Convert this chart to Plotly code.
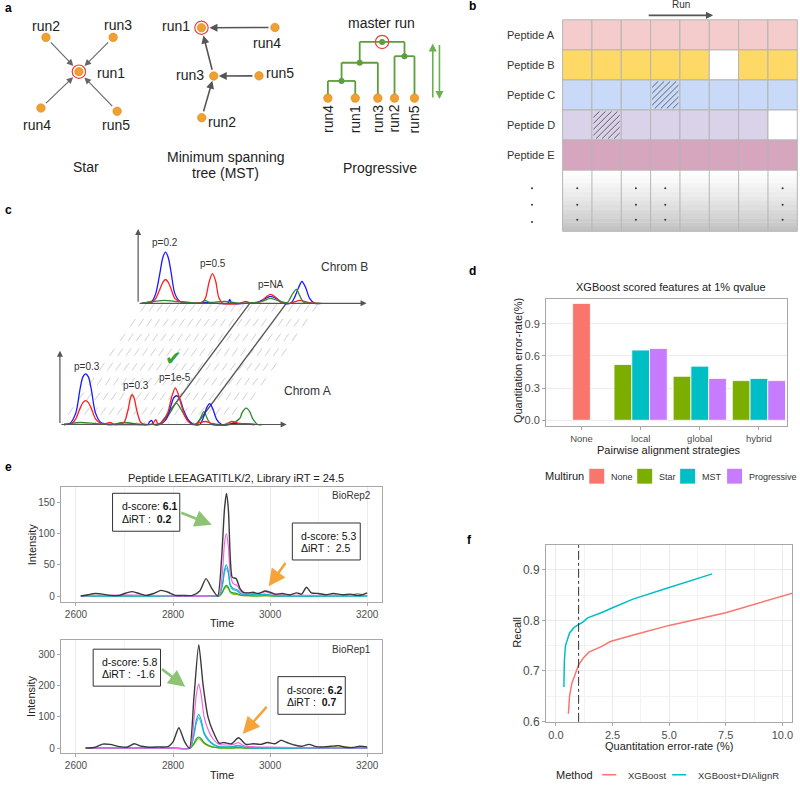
import plotly.graph_objects as go

W, H = 800, 788
FONT = "Liberation Sans, Arial, Helvetica, sans-serif"
TXT = "#222222"
TICK = "#4d4d4d"

# ---------------- panel a: alignment topologies (diagram positions, px) ----------------
star_nodes = {"run1": (79, 72.3), "run2": (46, 37.7), "run3": (113.3, 37.7),
              "run4": (41, 109), "run5": (117.3, 112.3)}
star_labels = {"run1": (111, 74), "run2": (46, 26.7), "run3": (118, 25),
               "run4": (37.5, 126), "run5": (116, 126)}
mst_nodes = {"run1": (201.7, 28), "run4": (275.3, 27.7), "run3": (214, 76.7),
             "run5": (259.3, 76.5), "run2": (202, 118.7)}
mst_labels = {"run1": (176, 26.7), "run4": (267, 43.3), "run3": (190, 76),
              "run5": (280, 74), "run2": (222, 122.7)}
mst_edges = [("run4", "run1"), ("run5", "run3"), ("run2", "run3"), ("run3", "run1")]
prog_leaves = ["run4", "run1", "run3", "run2", "run5"]
prog_leaf_x = [328.3, 355.7, 378.3, 395, 415]
prog_leaf_y = 99
# internal nodes: (children, y)
prog_tree = {"n3": (("run4", "run1"), 81.7), "n2": (("n3", "run3"), 63.3),
             "nR": (("run2", "run5"), 56.7), "root": (("n2", "nR"), 42.3)}
a_titles = [("Star", 86, 168), ("Minimum spanning", 226, 158), ("tree (MST)", 226, 175),
            ("Progressive", 380, 170), ("master run", 382, 23)]

# ---------------- panel b: peptide x run matrix ----------------
b_rows = ["Peptide A", "Peptide B", "Peptide C", "Peptide D", "Peptide E"]
b_colors = ["#F4CCCC", "#FFD966", "#C9DAF8", "#D9D2E9", "#D5A6BD"]
b_ncols = 8
b_empty = [(1, 5), (3, 7)]
b_hatched = [(2, 3), (3, 1)]
b_dot_cols = [0, 2, 3, 7]

# ---------------- panel c: chromatogram sketches (px, height above baseline) ----------------
cB_blue_x = [142, 147, 152, 156, 160, 163, 165.7, 168.5, 171.5, 175, 180, 186, 195, 205, 215, 228, 230, 232, 245, 258, 264, 271, 278, 284, 291, 295, 299, 302.3, 306, 310, 315, 322]
cB_blue_h = [0, 1, 2, 10, 30, 46, 51.7, 46, 30, 10, 2, 1, 0, 1, 0, 0, 4, 0, 0, 1, 4, 7, 4, 0, 0, 6, 16, 22, 16, 5, 0, 0]
cB_red_x = [142, 152, 156, 160, 163, 165.7, 168.5, 171.5, 175, 182, 195, 203, 206, 209.5, 212.7, 216, 219, 223, 240, 246, 252, 262, 266, 271, 276, 281, 290, 300, 308, 320]
cB_red_h = [0, 1, 5, 14, 21, 24, 21, 14, 5, 1, 0, 1, 6, 22, 30, 22, 6, 0, 0, 2, 0, 2, 6, 9, 6, 1, 0, 3, 1, 0]
cB_green_x = [142, 155, 165, 175, 190, 200, 205, 210, 225, 240, 262, 271, 280, 288, 292, 296.7, 300, 304, 320]
cB_green_h = [0, 2, 3, 2, 1, 0, 3, 1, 2, 0, 2, 5, 2, 1, 8, 14, 8, 1, 0]
cA_blue_x = [64, 70, 76, 80, 83, 85.7, 88.5, 91.5, 95.5, 101, 108, 120, 140, 148, 150, 152, 154, 160, 166, 170, 174, 177, 180, 184, 189, 194, 200, 204, 207, 210, 213, 217, 222, 235, 255]
cA_blue_h = [0, 1, 12, 35, 48, 51, 48, 35, 12, 2, 0, 0, 0, 0, 3, 4, 0, 0, 5, 15, 27, 29, 26, 14, 4, 0, 0, 8, 17, 21, 16, 5, 0, 1, 0]
cA_red_x = [64, 72, 76, 80, 83, 85.7, 88.5, 91.5, 95.5, 101, 106, 110, 115, 124, 128, 130.5, 132.3, 134.5, 137, 141, 146, 153, 156, 158, 163, 168, 172, 175.5, 178, 182, 187, 193, 200, 206, 212, 225, 232, 240, 255]
cA_red_h = [0, 1, 6, 16, 22, 24, 22, 16, 6, 1, 1, 2, 0, 2, 14, 26, 30, 26, 14, 2, 0, 1, 5, 1, 2, 12, 28, 37, 32, 18, 5, 0, 2, 3, 1, 0, 3, 1, 0]
cA_green_x = [64, 80, 95, 110, 125, 140, 160, 166, 171, 176.7, 182, 188, 195, 200, 204, 208, 212, 230, 240, 243, 246.7, 250, 253, 258, 262]
cA_green_h = [0, 2, 1, 0, 2, 0, 1, 5, 13, 21.6, 14, 4, 0, 5, 13, 5, 0, 0, 6, 13, 16.6, 13, 6, 0, 0]
cB_labels = [("p=0.2", 165.7, 244.3), ("p=0.5", 213.3, 266), ("p=NA", 271, 286.7)]
cA_labels = [("p=0.3", 87.3, 370), ("p=0.3", 135.7, 389.3), ("p=1e-5", 175, 380.7)]
c_solid_links = [160, 196.7]  # x on chrom A baseline of the two matched peaks

# ---------------- panel d: quantitation error-rate ----------------
d_categories = ["None", "local", "global", "hybrid"]
d_multirun = ["None", "Star", "MST", "Progressive"]
d_none = [1.09, None, None, None]
d_star = [None, 0.52, 0.41, 0.37]
d_mst = [None, 0.655, 0.505, 0.39]
d_prog = [None, 0.67, 0.39, 0.37]
d_colors = ["#F8766D", "#7CAE00", "#00BFC4", "#C77CFF"]

# ---------------- panel e: XICs ----------------
e2_t = [2610, 2625, 2640, 2655, 2670, 2690, 2700, 2715, 2730, 2745, 2760, 2775, 2790, 2805, 2820, 2840, 2855, 2868, 2880, 2892, 2900, 2906, 2910, 2914, 2918, 2922, 2930, 2938, 2945, 2955, 2965, 2975, 2990, 3000, 3010, 3025, 3040, 3055, 3065, 3075, 3085, 3100, 3115, 3130, 3150, 3165, 3180, 3190, 3200]
e2_total = [0, 2, 4, 3, 1, 1, 4, 7, 4, 1, 4, 9, 6, 1, 1, 1, 8, 28, 12, 0, 60, 140, 165, 140, 60, 30, 28, 12, 6, 5, 6, 4, 8, 6, 3, 4, 2, 5, 3, 14, 5, 4, 2, 4, 2, 3, 1, 2, 5]
e2_tc = [2610, 2700, 2800, 2880, 2895, 2902, 2906, 2910, 2914, 2918, 2924, 2932, 2940, 2955, 2975, 2990, 3005, 3050, 3100, 3170, 3180, 3190, 3200]
e2_magenta = [0, 2, 0, 0, 2, 40, 85, 100, 80, 35, 20, 17, 7, 5, 4, 7, 3, 1, 1, 1, 1, 1, 1]
e2_cyan = [0, 0, 0, 0, 1, 20, 42, 50, 40, 18, 12, 10, 4, 3, 2, 3, 1, 0, 0, 0, 0, 0, 0]
e2_blue = [0, 0, 0, 0, 1, 18, 38, 45, 36, 16, 10, 8, 3, 2, 1, 2, 1, 0, 0, 0, 0, 0, 0]
e2_green = [0, 0, 0, 0, 0, 7, 14, 17, 14, 7, 5, 4, 1, 1, 0, 1, 0, 0, 0, 0, 0, 0, 0]
e2_olive = [0, 0, 0, 0, 0, 6, 12, 15, 12, 6, 3, 2, 1, 0, 0, 0, 0, 0, 0, 2, 4, 2, 0]

e1_t = [2620, 2640, 2655, 2670, 2690, 2705, 2720, 2735, 2750, 2770, 2790, 2800, 2812, 2824, 2834, 2843, 2853, 2862, 2872, 2882, 2895, 2905, 2920, 2935, 2950, 2965, 2980, 2995, 3010, 3022, 3035, 3050, 3065, 3080, 3095, 3110, 3125, 3140, 3155, 3170, 3185, 3200]
e1_total = [0, 3, 13, 12, 5, 3, 14, 6, 3, 4, 5, 20, 65, 20, 0, 160, 330, 200, 100, 55, 16, 18, 14, 33, 12, 14, 12, 18, 14, 25, 18, 10, 6, 12, 5, 4, 6, 8, 3, 2, 6, 4]
e1_tc = [2620, 2700, 2800, 2835, 2843, 2848, 2853, 2858, 2864, 2872, 2882, 2895, 2910, 2925, 2935, 2945, 2960, 3000, 3100, 3130, 3140, 3150, 3200]
e1_magenta = [0, 0, 0, 0, 90, 170, 205, 170, 100, 60, 30, 12, 10, 12, 18, 8, 5, 3, 1, 1, 1, 1, 1]
e1_cyan = [0, 0, 0, 0, 45, 90, 108, 90, 50, 30, 14, 5, 4, 6, 9, 4, 2, 1, 0, 0, 0, 0, 0]
e1_blue = [0, 0, 0, 0, 40, 80, 97, 80, 45, 26, 12, 4, 3, 5, 7, 3, 1, 1, 0, 0, 0, 0, 0]
e1_green = [0, 0, 0, 0, 15, 30, 35, 30, 18, 10, 4, 1, 1, 1, 2, 1, 0, 0, 0, 0, 0, 0, 0]
e1_olive = [0, 0, 0, 0, 12, 25, 30, 25, 15, 8, 3, 1, 0, 0, 1, 0, 0, 0, 0, 4, 8, 4, 0]
e_title = "Peptide LEEAGATITLK/2, Library iRT = 24.5"
e_boxes = [("d-score: <b>6.1</b>", "ΔiRT :  <b>0.2</b>"), ("d-score: 5.3", "ΔiRT :  2.5"),
           ("d-score: 5.8", "ΔiRT :  -1.6"), ("d-score: <b>6.2</b>", "ΔiRT :  <b>0.7</b>")]

# ---------------- panel f: recall vs error rate ----------------
f_dia_x = [0.35, 0.37, 0.42, 0.5, 0.6, 0.8, 1.0, 1.2, 1.4, 2.0, 2.5, 3.4, 5.0, 6.9]
f_dia_y = [0.668, 0.72, 0.75, 0.763, 0.775, 0.786, 0.791, 0.797, 0.805, 0.815, 0.825, 0.842, 0.865, 0.892]
f_xgb_x = [0.55, 0.6, 0.7, 0.85, 1.0, 1.2, 1.45, 2.0, 2.4, 3.5, 5.0, 7.5, 10.6]
f_xgb_y = [0.615, 0.65, 0.675, 0.695, 0.712, 0.725, 0.737, 0.748, 0.758, 0.772, 0.79, 0.815, 0.856]

# =====================================================================
fig = go.Figure()
shapes, annos = [], []


def ann(text, x, y, size=14, color=TXT, xanchor="center", yanchor="middle", angle=0, bold=False):
    if bold:
        text = "<b>" + text + "</b>"
    annos.append(dict(text=text, x=x, y=y, xref="x", yref="y", showarrow=False,
                      font=dict(size=size, color=color, family=FONT),
                      xanchor=xanchor, yanchor=yanchor, textangle=angle))


def arrow(x0, y0, x1, y1, color, width=1.2, head=2, hsize=1.0):
    annos.append(dict(text="", x=x1, y=y1, ax=x0, ay=y0, xref="x", yref="y", axref="x", ayref="y",
                      showarrow=True, arrowhead=head, arrowsize=hsize, arrowwidth=width,
                      arrowcolor=color))


def line(x0, y0, x1, y1, color, width=1, dash="solid", layer="above"):
    shapes.append(dict(type="line", x0=x0, y0=y0, x1=x1, y1=y1, xref="x", yref="y",
                       line=dict(color=color, width=width, dash=dash), layer=layer))


def ring(x, y, r=6.7, color="#e8413c"):
    shapes.append(dict(type="circle", x0=x - r, x1=x + r, y0=y - r, y1=y + r, xref="x", yref="y",
                       line=dict(color=color, width=1.2), layer="above"))


def shrink(p_from, p_to, d):
    dx, dy = p_to[0] - p_from[0], p_to[1] - p_from[1]
    L = (dx * dx + dy * dy) ** 0.5
    return (p_to[0] - dx / L * d, p_to[1] - dy / L * d)


ORANGE = "#F0A030"
# panel letters
for lt, x, y in [("a", 3, 8), ("b", 468, 6), ("c", 3, 212), ("d", 468, 273), ("e", 3, 471), ("f", 466, 545)]:
    ann(lt, x, y, size=12, color="#000", xanchor="left", bold=True)

# ---- panel a ----
for name, p in star_nodes.items():
    if name != "run1":
        s = shrink(star_nodes["run1"], p, 5)
        e = shrink(p, star_nodes["run1"], 8)
        arrow(s[0], s[1], e[0], e[1], "#666666", width=1.1, head=2, hsize=1.2)
for a_, b_ in mst_edges:
    p, q = mst_nodes[a_], mst_nodes[b_]
    s = shrink(q, p, 5)
    e = shrink(p, q, 8 if b_ == "run1" else 5)
    arrow(s[0], s[1], e[0], e[1], "#555555", width=1.6, head=2, hsize=1.0)
ring(*star_nodes["run1"])
ring(*mst_nodes["run1"])
# progressive tree
pos = {n: (x, prog_leaf_y) for n, x in zip(prog_leaves, prog_leaf_x)}
for node in ["n3", "n2", "nR", "root"]:
    (c1, c2), ny = prog_tree[node]
    x1, x2 = pos[c1][0], pos[c2][0]
    pos[node] = ((x1 + x2) / 2, ny)
    line(x1, ny, x2, ny, "#5c9e3c", 1.8, layer="below")
    for c in (c1, c2):
        line(pos[c][0], ny, pos[c][0], pos[c][1], "#5c9e3c", 1.8, layer="below")
ring(*pos["root"])
fig.add_trace(go.Scatter(x=[pos[n][0] for n in ["n3", "n2", "nR", "root"]],
                         y=[pos[n][1] for n in ["n3", "n2", "nR", "root"]],
                         mode="markers", marker=dict(size=6, color="#5c9e3c"),
                         hoverinfo="skip", showlegend=False, xaxis="x", yaxis="y"))
arrow(433.3, 100, 433.3, 44, "#6ab04c", width=1.6, head=2, hsize=1.0)
arrow(440, 44, 440, 100, "#6ab04c", width=1.6, head=2, hsize=1.0)
nodes_x = [p[0] for p in star_nodes.values()] + [p[0] for p in mst_nodes.values()] + prog_leaf_x
nodes_y = [p[1] for p in star_nodes.values()] + [p[1] for p in mst_nodes.values()] + [prog_leaf_y] * 5
fig.add_trace(go.Scatter(x=nodes_x, y=nodes_y, mode="markers",
                         marker=dict(size=8.5, color=ORANGE, line=dict(color="#d98a1e", width=0.6)),
                         hoverinfo="skip", showlegend=False, xaxis="x", yaxis="y"))
for name, (x, y) in star_labels.items():
    ann(name, x, y)
for name, (x, y) in mst_labels.items():
    ann(name, x, y)
for n, x in zip(prog_leaves, prog_leaf_x):
    ann(n, x, 104, angle=-90, yanchor="top")
for t, x, y in a_titles:
    ann(t, x, y)

# ---- panel b ----
bx0, bx1, by0, rh, bgray_end = 563.3, 798.3, 20, 30.33, 233.3
cw = (bx1 - bx0) / b_ncols
nb = 14
g_top = by0 + rh * len(b_rows)
for i in range(nb):
    frac = (i + 0.5) / nb
    g = int(255 - 62 * frac ** 1.3)
    shapes.append(dict(type="rect", x0=bx0, x1=bx1, y0=g_top + (bgray_end - g_top) * i / nb,
                       y1=g_top + (bgray_end - g_top) * (i + 1) / nb + 0.3, xref="x", yref="y",
                       fillcolor=f"rgb({g},{g},{g})", line=dict(width=0), layer="below"))
for r, (lab, col) in enumerate(zip(b_rows, b_colors)):
    for c in range(b_ncols):
        fill = "#ffffff" if (r, c) in b_empty else col
        shapes.append(dict(type="rect", x0=bx0 + c * cw, x1=bx0 + (c + 1) * cw, y0=by0 + r * rh,
                           y1=by0 + (r + 1) * rh, xref="x", yref="y", fillcolor=fill,
                           line=dict(color="#b5b5b5", width=1), layer="below"))
    ann(lab, 532, by0 + (r + 0.5) * rh, size=11, color="#333")
for c in range(b_ncols + 1):
    line(bx0 + c * cw, g_top, bx0 + c * cw, bgray_end, "#b5b5b5", 1, layer="below")
line(bx0, bgray_end, bx1, bgray_end, "#b5b5b5", 1, layer="below")
for (r, c) in b_hatched:
    x0, y1 = bx0 + c * cw + 1.5, by0 + (r + 1) * rh - 1.5
    w, h = cw - 3, rh - 3
    s = -h
    while s < w:
        t0, t1 = max(0, -s), min(h, w - s)
        if t1 > t0:
            line(x0 + s + t0, y1 - t0, x0 + s + t1, y1 - t1, "#444444", 0.8, layer="below")
        s += 6
dot_x, dot_y = [], []
for c in b_dot_cols:
    for yy in (190, 206.7, 221.7):
        dot_x.append(bx0 + (c + 0.5) * cw)
        dot_y.append(yy)
for yy in (190, 206.7, 224):
    dot_x.append(532.7)
    dot_y.append(yy)
fig.add_trace(go.Scatter(x=dot_x, y=dot_y, mode="markers", marker=dict(size=2, color="#333"),
                         hoverinfo="skip", showlegend=False, xaxis="x", yaxis="y"))
ann("Run", 681.7, 5, size=10, color="#333")
arrow(648, 15.5, 714, 15.5, "#555555", width=1.6, head=2, hsize=0.9)

# ---- panel c ----
baseB, baseA = 306, 428.3
shift = 90
for k in range(22):
    xt = 146 + k * 8.2
    xb = xt - 84
    line(xt, baseB + 1, xb, baseA - 1, "#c4c4c4", 0.8, dash="dash", layer="below")
for xa in c_solid_links:
    line(xa, baseA, xa + shift, baseB, "#555555", 1.3, layer="below")
for xs, hs, col in [(cB_blue_x, cB_blue_h, "#1a1aff"), (cB_red_x, cB_red_h, "#ff2020"),
                    (cB_green_x, cB_green_h, "#2e8b2e")]:
    fig.add_trace(go.Scatter(x=xs, y=[baseB - h for h in hs], mode="lines",
                             line=dict(color=col, width=1.3, shape="spline", smoothing=0.8),
                             hoverinfo="skip", showlegend=False, xaxis="x", yaxis="y"))
for xs, hs, col in [(cA_green_x, cA_green_h, "#2e8b2e"), (cA_blue_x, cA_blue_h, "#1a1aff"),
                    (cA_red_x, cA_red_h, "#ff2020")]:
    fig.add_trace(go.Scatter(x=xs, y=[baseA - h for h in hs], mode="lines",
                             line=dict(color=col, width=1.3, shape="spline", smoothing=0.8),
                             hoverinfo="skip", showlegend=False, xaxis="x", yaxis="y"))
arrow(138.3, baseB, 138.3, 231, "#555555", width=1.2, head=2, hsize=1.0)
arrow(138.3, baseB, 367, baseB, "#555555", width=1.2, head=2, hsize=1.0)
arrow(60, baseA, 60, 354, "#555555", width=1.2, head=2, hsize=1.0)
arrow(60, baseA, 287, baseA, "#555555", width=1.2, head=2, hsize=1.0)
for t, x, y in cB_labels + cA_labels:
    ann(t, x, y, size=10, color="#333")
ann("Chrom B", 345, 269.3, size=12, color="#333")
ann("Chrom A", 308.3, 395, size=12, color="#333")
ann("✔", 173.3, 361, size=20, color="#36a336")

# ---- panel d ----
offs = [0.0, -0.3, 0.0, 0.3]
for name, vals, col, off in zip(d_multirun, [d_none, d_star, d_mst, d_prog], d_colors, offs):
    xs = [i for i, v in enumerate(vals) if v is not None]
    ys = [v for v in vals if v is not None]
    fig.add_trace(go.Bar(x=xs, y=ys, width=0.3, offset=off - 0.15, marker=dict(color=col, line=dict(color="white", width=0.8)),
                         showlegend=False, xaxis="x2", yaxis="y2", hoverinfo="skip"))
ann("XGBoost scored features at 1% qvalue", 671.7, 290, size=11)
ann("Pairwise alignment strategies", 670, 454, size=11)
ann("Quantitation error-rate(%)", 518.5, 363.5, size=11, angle=-90)
ann("Multirun", 565, 480.5, size=11)
legx = [590, 638, 681, 728]
for name, col, x in zip(d_multirun, d_colors, legx):
    shapes.append(dict(type="rect", x0=x, x1=x + 15, y0=473, y1=488, xref="x", yref="y",
                       fillcolor=col, line=dict(width=0), layer="above"))
    ann(name, x + 20, 481, size=9, color="#333", xanchor="left")

# ---- panel e ----
e_cols = ["#F564E3", "#00BFC4", "#619CFF", "#00BA38", "#B79F00"]
for (tc, series, tt, tot, xa, ya) in [
        (e2_tc, [e2_magenta, e2_cyan, e2_blue, e2_green, e2_olive], e2_t, e2_total, "x3", "y3"),
        (e1_tc, [e1_magenta, e1_cyan, e1_blue, e1_green, e1_olive], e1_t, e1_total, "x4", "y4")]:
    for s, col in zip(series[::-1], e_cols[::-1]):
        fig.add_trace(go.Scatter(x=tc, y=s, mode="lines", line=dict(color=col, width=1.2, shape="spline", smoothing=0.6),
                                 showlegend=False, xaxis=xa, yaxis=ya, hoverinfo="skip"))
    fig.add_trace(go.Scatter(x=tt, y=tot, mode="lines", line=dict(color="#3a3a3a", width=1.4, shape="spline", smoothing=0.6),
                             showlegend=False, xaxis=xa, yaxis=ya, hoverinfo="skip"))
ann(e_title, 236, 482, size=11)
ann("BioRep2", 373, 500, size=10, color="#333", xanchor="right")
ann("BioRep1", 373, 655, size=10, color="#333", xanchor="right")
ann("Time", 222.3, 629, size=11)
ann("Time", 222.3, 782, size=11)
ann("Intensity", 31.7, 549.5, size=11, angle=-90)
ann("Intensity", 31.7, 702.5, size=11, angle=-90)
box_geo = [(112.7, 497.7, 180, 536), (292.7, 527.7, 360.7, 565),
           (93.3, 655, 160.7, 692.3), (278.3, 682.7, 345.7, 720.7)]
for (l1, l2), (x0, y0, x1, y1) in zip(e_boxes, box_geo):
    shapes.append(dict(type="rect", x0=x0, x1=x1, y0=y0, y1=y1, xref="x", yref="y",
                       fillcolor="white", line=dict(color="#333", width=1), layer="above"))
    ann(l1, x0 + 7, y0 + 13, size=10.5, color="#111", xanchor="left")
    ann(l2, x0 + 7, y0 + 25.5, size=10.5, color="#111", xanchor="left")
GREEN_A, ORANGE_A = "#8cc474", "#f6a43a"
arrow(180, 516.7, 212, 529.5, GREEN_A, width=2.6, head=2, hsize=1.3)
arrow(287, 566.5, 269, 591.5, ORANGE_A, width=2.6, head=2, hsize=1.3)
arrow(160.7, 674, 185.5, 693, GREEN_A, width=2.6, head=2, hsize=1.3)
arrow(268.3, 711.7, 243, 740.5, ORANGE_A, width=2.6, head=2, hsize=1.3)

# ---- panel f ----
fig.add_trace(go.Scatter(x=f_xgb_x, y=f_xgb_y, mode="lines", line=dict(color="#F8766D", width=1.5),
                         showlegend=False, xaxis="x5", yaxis="y5", hoverinfo="skip"))
fig.add_trace(go.Scatter(x=f_dia_x, y=f_dia_y, mode="lines", line=dict(color="#00BFC4", width=1.5),
                         showlegend=False, xaxis="x5", yaxis="y5", hoverinfo="skip"))
shapes.append(dict(type="line", x0=1, x1=1, y0=0, y1=1, xref="x5", yref="y5 domain",
                   line=dict(color="#333", width=1, dash="dashdot"), layer="above"))
ann("Recall", 518, 638, size=11, angle=-90)
ann("Quantitation error-rate (%)", 670, 753, size=11)
ann("Method", 575, 781.7, size=11)
for x, col, name in [(603, "#F8766D", "XGBoost"), (673, "#00BFC4", "XGBoost+DIAlignR")]:
    line(x, 781.7, x + 14, 781.7, col, 1.5)
    ann(name, x + 24, 782, size=9.5, color="#333", xanchor="left")


def px_dom_x(a, b):
    return [a / W, b / W]


def px_dom_y(top, bottom):
    return [1 - bottom / H, 1 - top / H]


base_ax = dict(showline=True, mirror=True, linecolor="#a8a8a8", linewidth=1, ticks="outside",
               ticklen=3, tickcolor="#a8a8a8", zeroline=False, gridcolor="#ebebeb",
               tickfont=dict(size=10, color=TICK, family=FONT), fixedrange=True)

fig.update_layout(
    width=W, height=H, margin=dict(l=0, r=0, t=0, b=0),
    paper_bgcolor="white", plot_bgcolor="rgba(0,0,0,0)",
    font=dict(family=FONT, color=TXT), barmode="overlay", showlegend=False,
    xaxis=dict(domain=[0, 1], range=[0, W], visible=False, fixedrange=True),
    yaxis=dict(domain=[0, 1], range=[H, 0], visible=False, fixedrange=True),
    xaxis2=dict(base_ax, domain=px_dom_x(546.7, 788.3), range=[-0.6, 3.48], anchor="y2",
                tickvals=[0, 1, 2, 3], ticktext=d_categories, showgrid=False,
                tickfont=dict(size=9.5, color=TICK, family=FONT)),
    yaxis2=dict(base_ax, domain=px_dom_y(301.7, 430), range=[-0.055, 1.131], anchor="x2",
                tickvals=[0, 0.3, 0.6, 0.9], ticktext=["0.0", "0.3", "0.6", "0.9"], showgrid=True,
                tickfont=dict(size=11, color=TICK, family=FONT)),
    xaxis3=dict(base_ax, domain=px_dom_x(61, 382.7), range=[2569, 3231], anchor="y3",
                tickvals=[2600, 2800, 3000, 3200], showgrid=True,
                minor=dict(tickvals=[2700, 2900, 3100], showgrid=True, gridcolor="#f3f3f3")),
    yaxis3=dict(base_ax, domain=px_dom_y(491.7, 607.3), range=[-9.5, 175], anchor="x3",
                tickvals=[0, 50, 100, 150], showgrid=False),
    xaxis4=dict(base_ax, domain=px_dom_x(61, 382.7), range=[2569, 3231], anchor="y4",
                tickvals=[2600, 2800, 3000, 3200], showgrid=True,
                minor=dict(tickvals=[2700, 2900, 3100], showgrid=True, gridcolor="#f3f3f3")),
    yaxis4=dict(base_ax, domain=px_dom_y(645.7, 759.3), range=[-14, 345], anchor="x4",
                tickvals=[0, 100, 200, 300], showgrid=False),
    xaxis5=dict(base_ax, domain=px_dom_x(546.7, 793.3), range=[-0.44, 10.44], anchor="y5",
                tickvals=[0, 2.5, 5, 7.5, 10], ticktext=["0.0", "2.5", "5.0", "7.5", "10.0"],
                showgrid=True, tickfont=dict(size=11, color=TICK, family=FONT),
                minor=dict(tickvals=[1.25, 3.75, 6.25, 8.75], showgrid=True, gridcolor="#f3f3f3")),
    yaxis5=dict(base_ax, domain=px_dom_y(550, 728.3), range=[0.599, 0.949], anchor="x5",
                tickvals=[0.6, 0.7, 0.8, 0.9], showgrid=True, tickfont=dict(size=12, color=TICK, family=FONT),
                minor=dict(tickvals=[0.65, 0.75, 0.85], showgrid=True, gridcolor="#f3f3f3")),
    shapes=shapes, annotations=annos,
)

fig.write_html("out.html", config={"displayModeBar": False},
               post_script="document.body.style.margin='0';document.body.style.overflow='hidden';")
